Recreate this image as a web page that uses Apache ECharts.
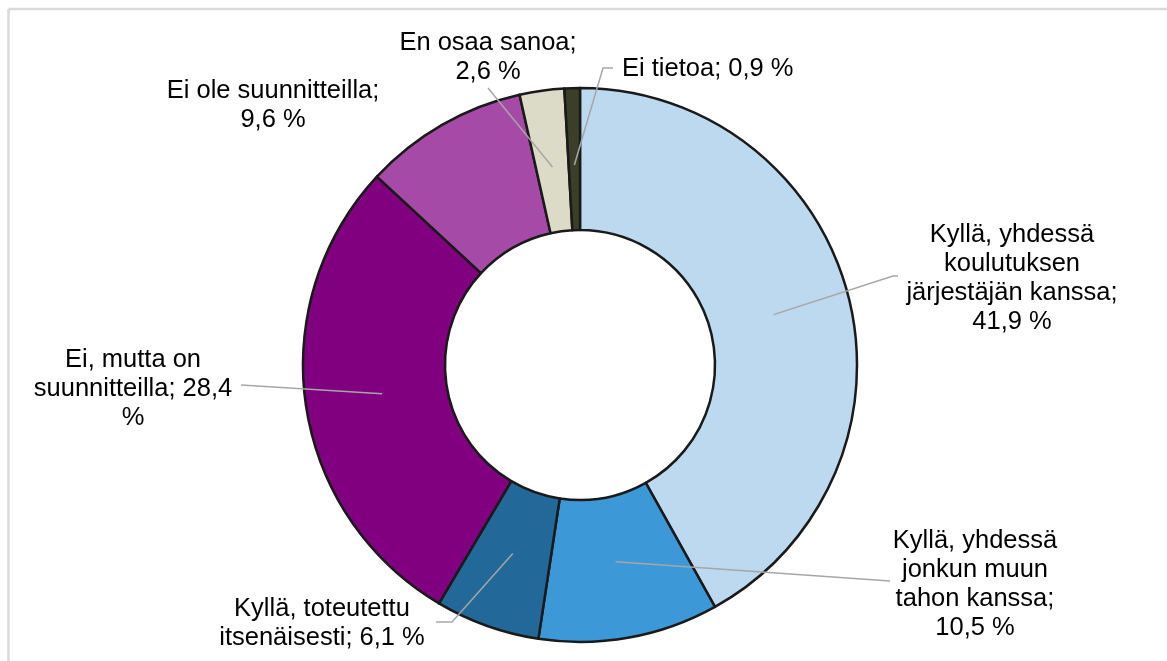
<!DOCTYPE html>
<html>
<head>
<meta charset="utf-8">
<script src="https://cdn.jsdelivr.net/npm/echarts@6/dist/echarts.min.js"></script>
<style>
  html, body { margin: 0; padding: 0; background: #fff; overflow: hidden; }
  #chart { width: 1167px; height: 661px; }
</style>
</head>
<body>
<div id="chart"></div>
<script>
const categories = [
  'Kyllä, yhdessä koulutuksen järjestäjän kanssa',
  'Kyllä, yhdessä jonkun muun tahon kanssa',
  'Kyllä, toteutettu itsenäisesti',
  'Ei, mutta on suunnitteilla',
  'Ei ole suunnitteilla',
  'En osaa sanoa',
  'Ei tietoa'
];
const values = [41.9, 10.5, 6.1, 28.4, 9.6, 2.6, 0.9];

// label text as wrapped in the original, {v} = value
const labelLines = [
  'Kyllä, yhdessä\nkoulutuksen\njärjestäjän kanssa;\n{v} %',
  'Kyllä, yhdessä\njonkun muun\ntahon kanssa;\n{v} %',
  'Kyllä, toteutettu\nitsenäisesti; {v} %',
  'Ei, mutta on\nsuunnitteilla; {v}\n%',
  'Ei ole suunnitteilla;\n{v} %',
  'En osaa sanoa;\n{v} %',
  'Ei tietoa; {v} %'
];

const colors = ['#BCD9F0', '#3C98D7', '#226899', '#800080', '#A54AA6', '#DCDBC7', '#3B3F29'];

// where the labels were dragged to, and the label end of their leader lines
const labelSpots = [
  { x: 1012, y: 278, align: 'center', line: [[893, 276], [898, 276]] },
  { x: 975, y: 584, align: 'center', line: [[890, 581]] },
  { x: 322, y: 623, align: 'center', line: [[452, 622], [436, 622]] },
  { x: 133, y: 389, align: 'center', line: [[241, 385]] },
  { x: 273, y: 105, align: 'center', line: null },
  { x: 488, y: 57, align: 'center', line: [[488, 88]] },
  { x: 622, y: 69, align: 'left', line: [[603, 68], [613, 68]] }
];

const cx = 580, cy = 365, rIn = 135, rOut = 277, rLine = 200;

const total = values.reduce((a, b) => a + b, 0);
const midAngle = (i) => {
  let before = 0;
  for (let k = 0; k < i; k++) before += values[k];
  return (before + values[i] / 2) / total * Math.PI * 2;
};

const fmt = (v) => v.toFixed(1).replace('.', ',');

// leader lines start in the middle of the ring, drawn over the slices
const leaders = [];
labelSpots.forEach((s, i) => {
  if (!s.line) return;
  const a = midAngle(i);
  const start = [cx + rLine * Math.sin(a), cy - rLine * Math.cos(a)];
  leaders.push({
    type: 'polyline',
    z: 50,
    silent: true,
    shape: { points: [start].concat(s.line) },
    style: { stroke: '#A6A6A6', lineWidth: 1.5, fill: null }
  });
});

const chart = echarts.init(document.getElementById('chart'));

chart.setOption({
  animation: false,
  graphic: [
    { type: 'line', silent: true, shape: { x1: 8.5, y1: 9, x2: 1167, y2: 9 }, style: { stroke: '#D9D9D9', lineWidth: 2.5 } },
    { type: 'line', silent: true, shape: { x1: 8.5, y1: 9, x2: 8.5, y2: 661 }, style: { stroke: '#D9D9D9', lineWidth: 2.5 } }
  ].concat(leaders),
  series: [{
    type: 'pie',
    center: [cx, cy],
    radius: [rIn, rOut],
    startAngle: 90,
    clockwise: true,
    avoidLabelOverlap: false,
    itemStyle: { borderColor: '#1A1A1A', borderWidth: 2.5 },
    label: {
      show: true,
      position: 'outside',
      color: '#000',
      fontFamily: 'Liberation Sans, Arial, sans-serif',
      fontSize: 25.5,
      lineHeight: 29,
      align: 'center',
      formatter: (p) => labelLines[p.dataIndex].replace('{v}', fmt(p.value))
    },
    labelLine: { show: false },
    labelLayout: (p) => {
      const s = labelSpots[p.dataIndex];
      return { x: s.x, y: s.y, align: s.align, verticalAlign: 'middle' };
    },
    data: categories.map((name, i) => ({
      name: name,
      value: values[i],
      itemStyle: { color: colors[i] }
    }))
  }]
});
</script>
</body>
</html>
